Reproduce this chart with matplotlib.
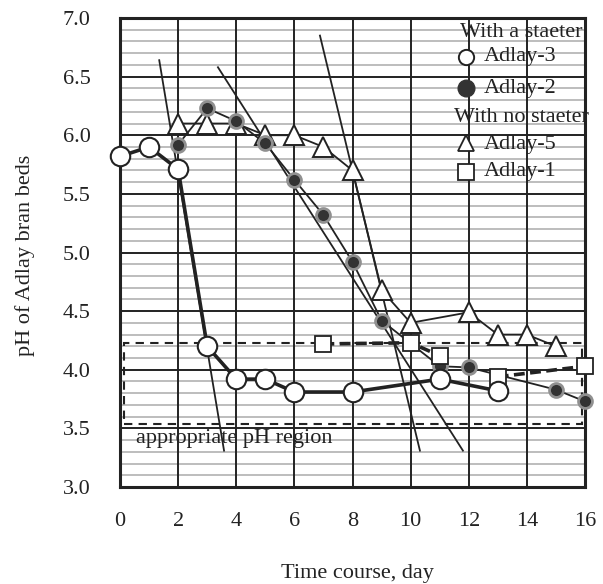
import matplotlib
matplotlib.use("Agg")
import matplotlib.pyplot as plt
import numpy as np
from matplotlib.patches import Rectangle

plt.rcParams['font.family'] = ['Liberation Serif', 'DejaVu Serif']

# Data
days3 = [0, 1, 2, 3, 4, 5, 6, 8, 11, 13]
ph3 = [5.82, 5.90, 5.71, 4.20, 3.92, 3.92, 3.81, 3.81, 3.92, 3.82]

days2 = [2, 3, 4, 5, 6, 7, 8, 9, 11, 12, 15, 16]
ph2 = [5.92, 6.23, 6.12, 5.93, 5.62, 5.32, 4.92, 4.42, 4.03, 4.02, 3.83, 3.73]

days5 = [2, 3, 4, 5, 6, 7, 8, 9, 10, 12, 13, 14, 15]
ph5 = [6.10, 6.10, 6.10, 6.00, 6.00, 5.90, 5.70, 4.68, 4.40, 4.49, 4.30, 4.30, 4.20]

days1 = [7, 10, 11, 13, 16]
ph1 = [4.22, 4.23, 4.12, 3.94, 4.03]

# Tangent (approximation) lines: (x0, y0, x1, y1)
tangents = [(1.35, 6.64, 3.58, 3.31),
            (3.37, 6.58, 11.80, 3.31),
            (6.88, 6.85, 10.32, 3.31)]

region_low, region_high = 3.54, 4.23
xticks = [0, 2, 4, 6, 8, 10, 12, 14, 16]
yticks = [3.0, 3.5, 4.0, 4.5, 5.0, 5.5, 6.0, 6.5, 7.0]

FS = 16
INK = '#222222'

fig = plt.figure(figsize=(6.03, 5.84), dpi=100)
ax = fig.add_axes([120/603, 1-487/584, (585-120)/603, (487-18)/584])
ax.set_xlim(0, 16)
ax.set_ylim(3.0, 7.0)

# minor grid
for v in np.arange(3.1, 7.0, 0.1):
    if abs(v*2 - round(v*2)) > 1e-6:
        ax.axhline(v, color='#b8b8b8', lw=1.3, zorder=0.5)
for v in yticks:
    ax.axhline(v, color=INK, lw=1.4, zorder=0.8)
for v in xticks:
    ax.axvline(v, color=INK, lw=1.4, zorder=0.8)

for s in ax.spines.values():
    s.set_linewidth(2.2)
    s.set_color(INK)

ax.set_xticks(xticks)
ax.set_yticks(yticks)
ax.set_xticklabels([str(t) for t in xticks])
ax.set_yticklabels([f"{t:.1f}" for t in yticks])
ax.tick_params(length=0, labelsize=FS, colors=INK)
ax.tick_params(axis='x', pad=18)
ax.tick_params(axis='y', pad=21)

# region box
ax.add_patch(Rectangle((0.14, region_low), 15.76, region_high - region_low,
                       fill=False, ls=(0, (4, 3)), lw=1.5, ec=INK, zorder=2))
ax.text(0.55, 3.41, 'appropriate pH region', fontsize=FS, va='center', ha='left',
        color=INK, zorder=3)

# tangents
for x0, y0, x1, y1 in tangents:
    ax.plot([x0, x1], [y0, y1], color=INK, lw=1.3, zorder=3)

# Adlay-5
ax.plot(days5, ph5, color=INK, lw=1.3, marker='^', ms=14, mfc='white',
        mec=INK, mew=1.4, zorder=4, clip_on=False)
# Adlay-2
ax.plot(days2, ph2, color=INK, lw=1.3, marker='o', ms=10, mfc='#333333',
        mec='#909090', mew=2, zorder=5, clip_on=False)
# Adlay-1
ax.plot(days1[:3], ph1[:3], color=INK, lw=2.6, ls=(0, (3, 1.5)), marker='s', ms=11,
        mfc='white', mec=INK, mew=1.3, zorder=5, clip_on=False)
ax.plot(days1[3:], ph1[3:], color=INK, lw=2.6, ls=(0, (3, 1.5)), marker='s', ms=11,
        mfc='white', mec=INK, mew=1.3, zorder=5, clip_on=False)
# Adlay-3
ax.plot(days3, ph3, color=INK, lw=2.6, marker='o', ms=14, mfc='white',
        mec=INK, mew=1.5, zorder=6, clip_on=False)

# legend (manual)
kw = dict(fontsize=FS, color=INK, va='center', zorder=7)
ax.text(13.8, 6.88, 'With a staeter', ha='center', **kw)
ax.plot([11.9], [6.67], marker='o', ms=11, mfc='white', mec=INK, mew=1.4, zorder=7)
ax.text(12.5, 6.67, 'Adlay-3', ha='left', **kw)
ax.plot([11.9], [6.40], marker='o', ms=12, mfc='#333333', mec='#333333', zorder=7)
ax.text(12.5, 6.40, 'Adlay-2', ha='left', **kw)
ax.text(13.8, 6.15, 'With no staeter', ha='center', **kw)
ax.plot([11.9], [5.93], marker='^', ms=11, mfc='white', mec=INK, mew=1.3, zorder=7)
ax.text(12.5, 5.92, 'Adlay-5', ha='left', **kw)
ax.plot([11.9], [5.69], marker='s', ms=11, mfc='white', mec=INK, mew=1.3, zorder=7)
ax.text(12.5, 5.69, 'Adlay-1', ha='left', **kw)

fig.text(357/603, 1-578/584, 'Time course, day', fontsize=FS, ha='center', va='baseline',
         color=INK)
fig.text(25/603, 1-255/584, 'pH of Adlay bran beds', fontsize=FS, ha='center',
         va='center', rotation=90, color=INK)

fig.savefig('out.png', dpi=100)
